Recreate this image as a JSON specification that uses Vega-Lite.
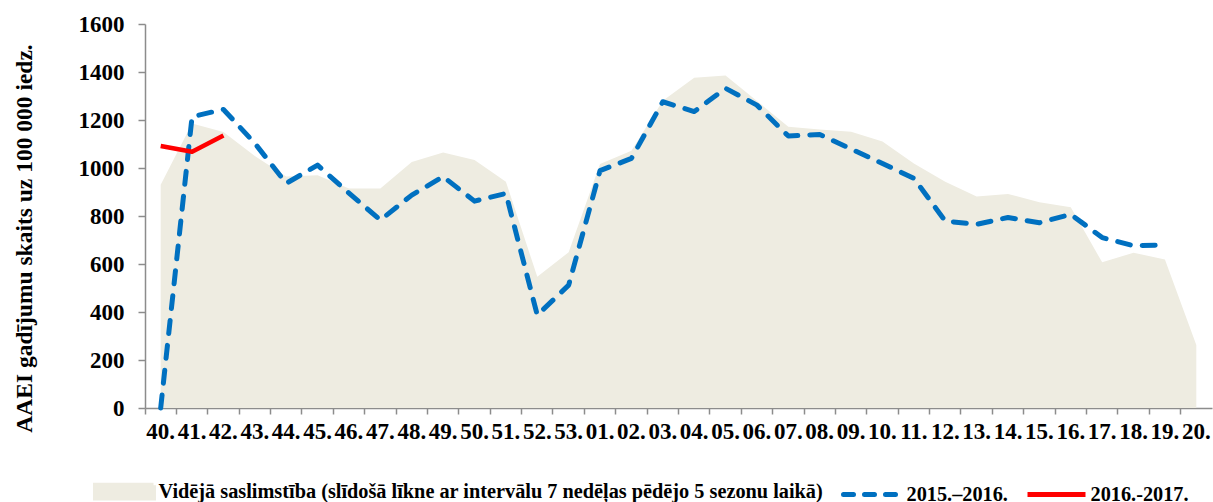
{
  "$schema": "https://vega.github.io/schema/vega-lite/v6.json",
  "autosize": {"type": "none"},
  "width": 1067,
  "height": 384,
  "padding": {"left": 145, "top": 24, "right": 1, "bottom": 94},
  "background": "white",
  "config": {"view": {"stroke": null}, "font": "Liberation Serif"},
  "data": {"values": [
    {"week": "40.", "avg": 930, "s1516": 0, "s1617": 1092},
    {"week": "41.", "avg": 1185, "s1516": 1214, "s1617": 1068},
    {"week": "42.", "avg": 1150, "s1516": 1244, "s1617": 1135},
    {"week": "43.", "avg": 1050, "s1516": 1103, "s1617": null},
    {"week": "44.", "avg": 965, "s1516": 936, "s1617": null},
    {"week": "45.", "avg": 970, "s1516": 1012, "s1617": null},
    {"week": "46.", "avg": 915, "s1516": 895, "s1617": null},
    {"week": "47.", "avg": 915, "s1516": 783, "s1617": null},
    {"week": "48.", "avg": 1025, "s1516": 887, "s1617": null},
    {"week": "49.", "avg": 1065, "s1516": 964, "s1617": null},
    {"week": "50.", "avg": 1033, "s1516": 862, "s1617": null},
    {"week": "51.", "avg": 943, "s1516": 894, "s1617": null},
    {"week": "52.", "avg": 547, "s1516": 387, "s1617": null},
    {"week": "53.", "avg": 649, "s1516": 512, "s1617": null},
    {"week": "01.", "avg": 1017, "s1516": 989, "s1617": null},
    {"week": "02.", "avg": 1072, "s1516": 1040, "s1617": null},
    {"week": "03.", "avg": 1280, "s1516": 1276, "s1617": null},
    {"week": "04.", "avg": 1376, "s1516": 1235, "s1617": null},
    {"week": "05.", "avg": 1385, "s1516": 1332, "s1617": null},
    {"week": "06.", "avg": 1279, "s1516": 1262, "s1617": null},
    {"week": "07.", "avg": 1172, "s1516": 1133, "s1617": null},
    {"week": "08.", "avg": 1160, "s1516": 1140, "s1617": null},
    {"week": "09.", "avg": 1151, "s1516": 1079, "s1617": null},
    {"week": "10.", "avg": 1110, "s1516": 1019, "s1617": null},
    {"week": "11.", "avg": 1019, "s1516": 957, "s1617": null},
    {"week": "12.", "avg": 943, "s1516": 779, "s1617": null},
    {"week": "13.", "avg": 881, "s1516": 765, "s1617": null},
    {"week": "14.", "avg": 892, "s1516": 794, "s1617": null},
    {"week": "15.", "avg": 857, "s1516": 772, "s1617": null},
    {"week": "16.", "avg": 836, "s1516": 807, "s1617": null},
    {"week": "17.", "avg": 607, "s1516": 710, "s1617": null},
    {"week": "18.", "avg": 647, "s1516": 676, "s1617": null},
    {"week": "19.", "avg": 619, "s1516": 679, "s1617": null},
    {"week": "20.", "avg": 262, "s1516": null, "s1617": null}
  ]},
  "encoding": {
    "x": {
      "field": "week", "type": "ordinal",
      "scale": {"type": "band", "paddingInner": 0, "paddingOuter": 0,
        "domain": ["40.","41.","42.","43.","44.","45.","46.","47.","48.","49.","50.","51.","52.","53.","01.","02.","03.","04.","05.","06.","07.","08.","09.","10.","11.","12.","13.","14.","15.","16.","17.","18.","19.","20."]},
      "axis": {
        "title": null, "bandPosition": 0, "labelAngle": 0,
        "labelFont": "Liberation Serif", "labelFontWeight": "bold", "labelFontSize": 23, "labelColor": "#000000",
        "labelPadding": 6, "labelOverlap": false, "labelBound": false, "labelFlush": false,
        "domainColor": "#8c8c8c", "domainWidth": 1.5, "tickColor": "#8c8c8c", "tickWidth": 1.5, "tickSize": 6, "grid": false
      }
    }
  },
  "layer": [
    {
      "mark": {"type": "area", "interpolate": "linear", "opacity": 1},
      "encoding": {
        "y": {
          "field": "avg", "type": "quantitative",
          "scale": {"domain": [0, 1600], "nice": false},
          "axis": {
            "title": "AAEI gadījumu skaits uz 100 000 iedz.",
            "titleFont": "Liberation Serif", "titleFontWeight": "bold", "titleFontSize": 23.5, "titleColor": "#000000",
            "titleAngle": 270, "titleAlign": "center", "titleBaseline": "middle", "titleX": -121, "titleY": 214,
            "values": [0, 200, 400, 600, 800, 1000, 1200, 1400, 1600], "format": "d",
            "labelFont": "Liberation Serif", "labelFontWeight": "bold", "labelFontSize": 23, "labelColor": "#000000",
            "labelPadding": 14, "grid": false,
            "domainColor": "#8c8c8c", "domainWidth": 1.5, "tickColor": "#8c8c8c", "tickWidth": 1.5, "tickSize": 7
          }
        },
        "color": {
          "datum": "Vidējā saslimstība (slīdošā līkne ar intervālu 7 nedēļas pēdējo 5 sezonu laikā)",
          "type": "nominal",
          "scale": {
            "domain": ["Vidējā saslimstība (slīdošā līkne ar intervālu 7 nedēļas pēdējo 5 sezonu laikā)", "2015.–2016.", "2016.-2017."],
            "range": ["#EEECE1", "#0070C0", "#FF0000"]
          },
          "legend": {
            "title": null, "orient": "none", "legendX": -52, "legendY": 436,
            "direction": "horizontal", "columns": 3, "columnPadding": 9,
            "symbolSize": 3364, "symbolOpacity": 1,
            "labelFont": "Liberation Serif", "labelFontWeight": "bold", "labelFontSize": 20.3, "labelColor": "#000000",
            "labelLimit": 1000, "labelOffset": 2.5,
            "encode": {
              "symbols": {
                "update": {
                  "shape": {"signal": "datum.value === '2015.–2016.' || datum.value === '2016.-2017.' ? 'M-1,0H1' : 'M-1,-0.22H1V0.22H-1Z'"},
                  "fill": {"signal": "datum.value === '2015.–2016.' || datum.value === '2016.-2017.' ? 'transparent' : '#EEECE1'"},
                  "stroke": {"signal": "datum.value === '2015.–2016.' ? '#0070C0' : (datum.value === '2016.-2017.' ? '#FF0000' : 'transparent')"},
                  "strokeWidth": {"value": 5},
                  "strokeDash": {"signal": "datum.value === '2015.–2016.' ? [10, 11] : [1, 0]"},
                  "strokeCap": {"signal": "datum.value === '2015.–2016.' ? 'round' : 'butt'"},
                  "opacity": {"value": 1}
                }
              }
            }
          }
        }
      }
    },
    {
      "mark": {"type": "line", "strokeWidth": 5, "strokeDash": [13, 12], "strokeCap": "round", "strokeJoin": "round"},
      "encoding": {
        "y": {"field": "s1516", "type": "quantitative"},
        "color": {"datum": "2015.–2016.", "type": "nominal"}
      }
    },
    {
      "mark": {"type": "line", "strokeWidth": 4.5, "strokeJoin": "round"},
      "encoding": {
        "y": {"field": "s1617", "type": "quantitative"},
        "color": {"datum": "2016.-2017.", "type": "nominal"}
      }
    }
  ]
}
